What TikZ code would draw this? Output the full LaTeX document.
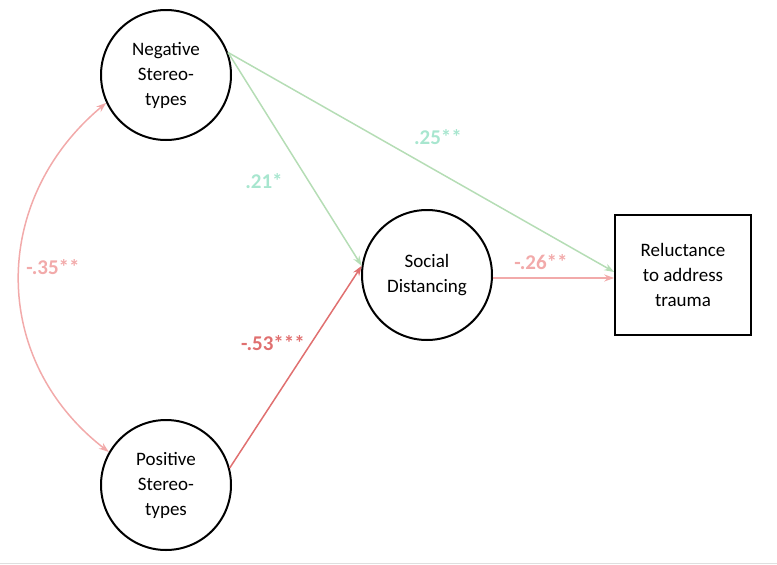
\documentclass[tikz,border=0pt]{standalone}
\usepackage{fontspec}
\setmainfont{Carlito}
\usetikzlibrary{arrows.meta}
\definecolor{lg}{HTML}{B5DDB5}
\definecolor{lgt}{HTML}{A8E6CF}
\definecolor{lp}{HTML}{F2AAAA}
\definecolor{rd}{HTML}{E07070}
\begin{document}
\begin{tikzpicture}[x=1pt,y=-1pt,
  circ/.style={draw,line width=2pt,circle,minimum size=130pt,inner sep=0pt,align=center,font=\fontsize{19}{25}\selectfont},
  box/.style={draw,line width=1.6pt,minimum width=136pt,minimum height=120pt,align=center,font=\fontsize{19}{25}\selectfont},
  arr/.style={-{Stealth[length=10pt,width=7pt,open]},line width=1.5pt},
  lab/.style={font=\bfseries\fontsize{21}{24}\selectfont}]
\useasboundingbox (0,0) rectangle (777,565);
\draw[gray!25,line width=1pt] (0,563) -- (777,563);
\node[circ] (neg) at (166,75) {Negative\\Stereo-\\types};
\node[circ] (pos) at (166,485) {Positive\\Stereo-\\types};
\node[circ] (sd) at (427,275) {Social\\Distancing};
\node[box] (rt) at (683,275) {Reluctance\\to address\\trauma};
\draw[arr,lg] (neg.20) -- (rt.west|-0,272);
\draw[arr,lg] (neg.20) -- (sd.172);
\draw[arr,rd] (pos.15) -- (sd.172);
\draw[arr,lp] (sd.east|-0,278) -- (rt.west|-0,278);
\draw[arr,lp,{Stealth[length=10pt,width=7pt,open]}-{Stealth[length=10pt,width=7pt,open]}] (neg.205) .. controls (-10,200) and (-10,360) .. (pos.150);
\node[lab,text=lgt] (l1) at (438,137) {.25**};
\node[lab,text=lgt] (l2) at (264,181) {.21*};
\node[lab,text=lp] (l3) at (53,267) {-.35**};
\node[lab,text=rd] (l4) at (273,343) {-.53***};
\node[lab,text=lp] (l5) at (541,262) {-.26**};
\end{tikzpicture}
\end{document}
